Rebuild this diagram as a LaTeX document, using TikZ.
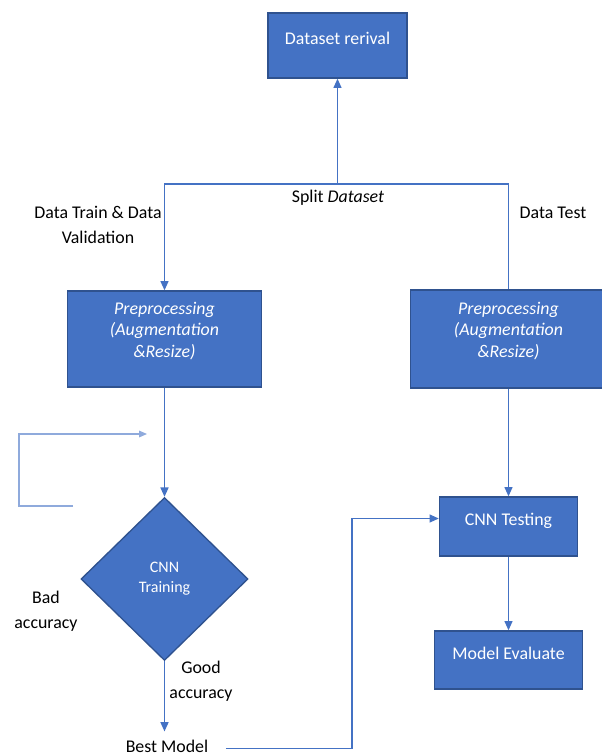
\documentclass[tikz,border=0pt]{standalone}
\usepackage{fontspec}
\setmainfont{Carlito}
\usetikzlibrary{positioning, arrows.meta, shapes.geometric}
\definecolor{boxblue}{HTML}{4472C4}
\definecolor{boxedge}{HTML}{2F528F}
\definecolor{loopblue}{HTML}{8FAADC}

\begin{document}
\begin{tikzpicture}[x=0.75pt, y=-0.75pt,
  box/.style={rectangle, draw=boxedge, fill=boxblue, line width=1pt, text=white, inner sep=0pt,
    font=\fontsize{13.4}{16.1}\selectfont, text height=9pt, text depth=10.2pt},
  prebox/.style={rectangle, draw=boxedge, fill=boxblue, line width=1pt, text=white, inner sep=0pt,
    align=center, font=\fontsize{13.4}{16.1}\selectfont\itshape, text depth=14.3pt},
  decision/.style={diamond, draw=boxedge, fill=boxblue, line width=1pt, text=white, align=center, inner sep=0pt,
    font=\fontsize{12}{15}\selectfont, minimum width=125.25pt, minimum height=122.25pt},
  lbl/.style={align=center, inner sep=0pt, font=\fontsize{13.4}{18.5}\selectfont},
  flow/.style={draw=boxblue, line width=1.1pt, -{Triangle[length=7pt,width=6pt]}},
  plain/.style={draw=boxblue, line width=1.1pt},
  loopline/.style={draw=loopblue, line width=0.8pt, -{Triangle[length=6pt,width=5pt]}}]

\useasboundingbox (0,0) rectangle (601,756);

% Boxes
\node[box, minimum width=104.25pt, minimum height=48.75pt] (rerival) at (337.5,45.5) {Dataset rerival};
\node[prebox, minimum width=145.5pt, minimum height=72pt] (pretrain) at (164.5,339) {Preprocessing\\(Augmentation\\\&Resize)};
\node[prebox, minimum width=147pt, minimum height=73.5pt] (pretest) at (508.5,339) {Preprocessing\\(Augmentation\\\&Resize)};
\node[decision] (cnn) at (164.5,579) {CNN\\Training};
\node[box, minimum width=103.5pt, minimum height=44.25pt] (test) at (508.5,526.5) {CNN Testing};
\node[box, minimum width=111pt, minimum height=43.5pt] (eval) at (508.5,660) {Model Evaluate};

% Labels
\node[lbl] (splitlbl) at (338,198) {Split \textit{Dataset}};
\node[lbl] (trainlbl) at (98,225) {Data Train \& Data\\Validation};
\node[lbl] (testlbl) at (553,213) {Data Test};
\node[lbl] (badlbl) at (46,611) {Bad\\accuracy};
\node[lbl] (goodlbl) at (201,681) {Good\\accuracy};
\node[lbl] (best) at (167,746) {Best Model};

% Turning points
\coordinate (split) at (337.5,184);
\coordinate (bend) at (352,518.5);
\coordinate (loopstart) at (73,506);
\coordinate (loopend) at (147,434);

% Edges
\draw[flow] (split) -- (rerival);
\draw[flow] (split) -| (pretrain);
\draw[plain] (split) -| (pretest);
\draw[flow] (pretrain) -- (cnn);
\draw[flow] (cnn) -- ([yshift=6pt]best.north -| cnn);
\draw[loopline] (loopstart) -- ++(-54,0) |- (loopend);
\draw[flow] ([xshift=13pt,yshift=-2pt]best.east) -| (bend) -- (test.west |- bend);
\draw[flow] (pretest) -- (test);
\draw[flow] (test) -- (eval);

\end{tikzpicture}
\end{document}
